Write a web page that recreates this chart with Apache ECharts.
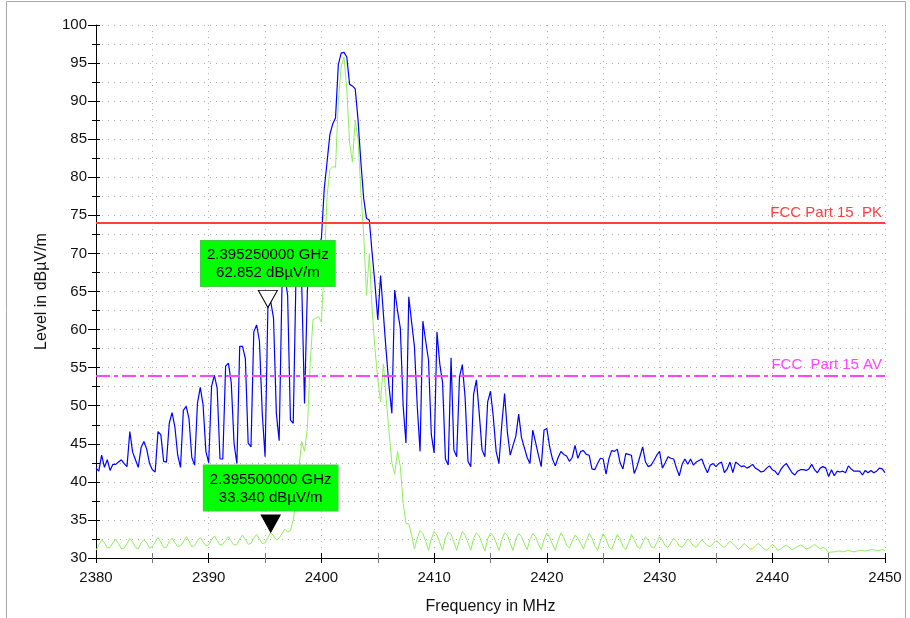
<!DOCTYPE html>
<html>
<head>
<meta charset="utf-8">
<title>Band edge 2380 - 2450 MHz</title>
<script src="https://cdn.jsdelivr.net/npm/echarts@6/dist/echarts.min.js"></script>
<style>
html, body { margin: 0; padding: 0; background: #fff; }
#main { width: 910px; height: 618px; }
</style>
</head>
<body>
<div id="main"></div>
<script>
// sweep: 2380 - 2450 MHz, one sample every 0.25 MHz
var startMHz = 2380;
var stepMHz = 0.25;

// peak detector trace (blue), dBµV/m, 10 samples per row
var peakTrace = [
	41.8, 41.4, 43.5, 41.9, 42.9, 41.5, 42.3, 42.3, 42.6, 42.9,
	42.4, 42.0, 46.6, 43.9, 42.9, 41.9, 44.5, 45.3, 44.3, 42.4,
	41.6, 41.3, 46.6, 46.2, 42.7, 42.6, 47.7, 49.1, 47.2, 43.5,
	41.9, 49.4, 49.9, 48.3, 43.2, 42.2, 50.3, 52.4, 50.1, 44.0,
	42.5, 52.5, 54.0, 52.3, 43.0, 43.0, 55.2, 55.6, 53.0, 45.0,
	42.4, 57.8, 57.8, 56.2, 45.1, 44.6, 59.7, 60.6, 58.5, 49.0,
	43.3, 62.852, 63.7, 61.5, 49.0, 45.4, 65.7, 67.2, 64.5, 48.1,
	47.7, 67.5, 68.5, 66.0, 50.3, 65.0, 69.5, 70.5, 70.0, 70.9,
	72.0, 78.5, 82.0, 85.6, 87.0, 87.8, 94.8, 96.3, 96.4, 95.8,
	92.2, 92.0, 91.6, 87.5, 82.0, 77.2, 74.6, 74.4, 70.0, 66.0,
	61.3, 67.1, 62.0, 57.0, 52.5, 49.0, 65.2, 62.5, 60.2, 50.0,
	45.1, 64.3, 61.0, 57.8, 50.0, 44.0, 61.1, 58.5, 56.0, 46.2,
	43.8, 59.7, 55.5, 53.0, 43.0, 42.2, 56.3, 44.2, 43.3, 53.8,
	55.4, 51.0, 42.7, 42.0, 51.5, 53.4, 49.0, 44.2, 43.3, 50.5,
	51.9, 48.5, 44.0, 42.4, 47.5, 51.6, 46.5, 43.5, 44.8, 46.0,
	48.9, 45.8, 44.5, 43.2, 42.4, 46.8, 45.2, 43.5, 42.0, 46.8,
	47.0, 44.6, 43.0, 42.1, 43.2, 44.0, 43.6, 43.4, 42.7, 43.2,
	44.8, 43.1, 44.0, 44.1, 43.6, 43.5, 41.7, 41.6, 42.4, 43.1,
	43.0, 41.0, 43.0, 44.1, 44.0, 44.3, 42.5, 41.7, 43.7, 43.6,
	43.5, 41.1, 42.0, 43.3, 44.6, 42.6, 42.0, 42.2, 42.8, 43.5,
	44.0, 41.8, 42.5, 43.3, 43.1, 43.0, 41.8, 40.8, 42.3, 43.0,
	42.3, 43.0, 42.2, 42.6, 42.8, 43.0, 42.0, 41.2, 42.2, 42.4,
	42.0, 42.4, 42.6, 41.2, 41.7, 42.6, 41.2, 42.6, 42.3, 42.0,
	42.1, 41.8, 42.0, 42.3, 41.8, 41.6, 41.3, 41.4, 41.8, 42.1,
	41.6, 41.4, 40.9, 41.6, 42.1, 42.4, 41.8, 41.2, 40.9, 41.4,
	41.6, 41.6, 41.5, 41.7, 42.3, 41.6, 41.2, 41.8, 42.0, 41.8,
	40.7, 41.6, 40.8, 41.4, 41.3, 41.4, 41.2, 42.1, 41.7, 41.4,
	41.4, 41.4, 40.9, 41.5, 41.2, 41.5, 41.2, 41.4, 41.8, 41.7,
	41.2
];

// average detector trace (green), dBµV/m
var avgTrace = [
	31.0, 31.7, 32.4, 32.0, 31.3, 31.4, 32.0, 32.5, 31.9, 31.2,
	31.3, 31.9, 32.6, 32.1, 31.4, 31.2, 32.0, 32.4, 32.0, 31.3,
	31.5, 32.1, 32.7, 32.1, 31.4, 31.4, 32.2, 32.6, 32.0, 31.5,
	31.6, 32.1, 32.8, 32.2, 31.5, 31.6, 32.3, 32.7, 32.1, 31.6,
	31.7, 32.4, 32.9, 32.3, 31.7, 31.8, 32.3, 32.8, 32.2, 31.7,
	31.8, 32.5, 33.0, 32.4, 31.8, 31.9, 32.6, 33.1, 32.5, 31.9,
	32.0, 32.7, 33.34, 32.9, 32.4, 32.6, 33.2, 33.8, 33.4, 33.6,
	35.0, 37.5, 41.8, 45.3, 44.0, 47.0, 55.5, 61.3, 61.5, 61.7,
	61.0, 68.5, 77.5, 81.0, 81.4, 81.3, 90.0, 94.5, 95.8, 91.5,
	84.5, 82.0, 87.5, 85.0, 78.0, 72.5, 64.5, 70.0, 62.5, 57.5,
	53.5, 50.5, 55.5, 50.8, 46.5, 42.5, 41.0, 44.0, 42.0, 37.2,
	34.5, 34.5, 33.0, 31.2, 32.6, 33.6, 33.2, 32.2, 31.0, 32.5,
	33.5, 33.0, 32.0, 31.0, 32.6, 33.4, 33.1, 32.1, 31.0, 32.4,
	33.5, 33.0, 32.0, 31.0, 32.6, 33.3, 32.9, 31.9, 30.9, 32.5,
	33.3, 32.9, 32.0, 31.0, 32.4, 33.3, 33.0, 31.9, 31.0, 32.5,
	33.2, 32.8, 31.9, 31.1, 32.4, 33.2, 32.8, 31.8, 31.1, 32.4,
	33.3, 32.7, 31.8, 31.0, 32.3, 33.3, 32.7, 31.7, 31.3, 32.2,
	33.0, 32.6, 31.9, 31.2, 32.3, 33.2, 32.6, 31.6, 31.0, 32.2,
	33.2, 32.5, 31.5, 31.1, 32.1, 33.1, 32.5, 31.5, 31.1, 32.0,
	33.1, 32.4, 31.5, 31.2, 32.0, 32.8, 32.3, 31.5, 31.3, 32.0,
	32.8, 32.3, 31.6, 31.4, 32.0, 32.6, 32.2, 31.6, 31.4, 31.9,
	32.5, 32.1, 31.6, 31.4, 31.9, 32.4, 32.0, 31.6, 31.5, 31.9,
	32.3, 32.0, 31.6, 31.4, 31.8, 32.2, 31.9, 31.5, 31.1, 31.5,
	31.9, 31.6, 31.2, 31.2, 31.6, 31.9, 31.6, 31.2, 31.0, 31.4,
	31.8, 31.5, 31.0, 31.2, 31.5, 31.7, 31.4, 31.1, 31.3, 31.5,
	31.7, 31.5, 31.2, 31.3, 31.5, 31.8, 31.5, 31.2, 31.4, 31.2,
	30.7, 30.8, 30.8, 30.9, 30.9, 30.8, 30.9, 31.0, 30.9, 30.8,
	30.9, 31.0, 31.0, 30.9, 31.0, 31.1, 31.1, 31.0, 31.0, 31.1,
	31.0
];

// limit lines
var limitPK = 74;
var limitAV = 54;
var limitPKName = 'FCC Part 15  PK';
var limitAVName = 'FCC  Part 15 AV';

// markers: [MHz, dBµV/m]
var markerPK = [2395.25, 62.852];
var markerAV = [2395.5, 33.34];

var font = '"Liberation Sans", Arial, sans-serif';
var dots = { color: '#b0b0b0', width: 1, type: [1, 5] };
var downTriangle = 'path://M0,0L20,0L10,18Z';

function toPairs(values) {
	return values.map(function (v, i) {
		return [startMHz + i * stepMHz, v];
	});
}

function markerText(m) {
	return (m[0] / 1000).toFixed(9) + ' GHz\n' + m[1].toFixed(3) + ' dBµV/m';
}

function markerLabel(m) {
	return {
		show: true,
		position: 'top',
		distance: 4,
		formatter: markerText(m),
		backgroundColor: '#00ff00',
		borderColor: '#44cc44',
		borderWidth: 1,
		padding: [5, 6, 4, 6],
		color: '#000',
		fontFamily: font,
		fontSize: 15,
		lineHeight: 18,
		align: 'center'
	};
}

var option = {
	animation: false,
	graphic: [{
		type: 'rect',
		silent: true,
		shape: { x: 6.5, y: 1.5, width: 899, height: 700 },
		style: { fill: null, stroke: '#a8a8a8', lineWidth: 1 }
	}],
	grid: { left: 96, right: 25, top: 25, bottom: 60, outerBoundsMode: 'none' },
	xAxis: [{
		type: 'value',
		min: 2380,
		max: 2450,
		interval: 10,
		position: 'bottom',
		name: 'Frequency in MHz',
		nameLocation: 'middle',
		nameGap: 41,
		nameTextStyle: { color: '#111', fontFamily: font, fontSize: 16 },
		axisLine: { show: true, onZero: false, lineStyle: { color: '#000', width: 1 } },
		axisTick: { show: true, length: 5, lineStyle: { color: '#000' } },
		minorTick: { show: true, splitNumber: 2, length: 5, lineStyle: { color: '#777' } },
		axisLabel: {
			color: '#111', fontFamily: font, fontSize: 15, margin: 12,
			formatter: function (v) { return String(v); }
		},
		splitLine: { show: true, lineStyle: dots },
		minorSplitLine: { show: true, lineStyle: dots }
	}, {
		// same axis again, only to draw the tick halves above the line
		type: 'value',
		min: 2380,
		max: 2450,
		interval: 10,
		position: 'bottom',
		axisLine: { show: false, onZero: false },
		axisTick: { show: true, inside: true, length: 5, lineStyle: { color: '#000' } },
		minorTick: { show: true, splitNumber: 2, length: 5, lineStyle: { color: '#777' } },
		axisLabel: { show: false },
		splitLine: { show: false }
	}],
	yAxis: [{
		type: 'value',
		min: 30,
		max: 100,
		interval: 5,
		name: 'Level in dBµV/m',
		nameLocation: 'middle',
		nameGap: 46,
		nameTextStyle: { color: '#111', fontFamily: font, fontSize: 16 },
		axisLine: { show: true, onZero: false, lineStyle: { color: '#000', width: 1 } },
		axisTick: { show: true, length: 8, lineStyle: { color: '#000' } },
		minorTick: { show: true, splitNumber: 2, length: 4, lineStyle: { color: '#000' } },
		axisLabel: { color: '#111', fontFamily: font, fontSize: 15, margin: 9 },
		splitLine: { show: true, lineStyle: dots },
		minorSplitLine: { show: true, lineStyle: dots }
	}, {
		type: 'value',
		min: 30,
		max: 100,
		interval: 5,
		position: 'left',
		axisLine: { show: false, onZero: false },
		axisTick: { show: true, inside: true, length: 4, lineStyle: { color: '#000' } },
		minorTick: { show: true, splitNumber: 2, length: 4, lineStyle: { color: '#000' } },
		axisLabel: { show: false },
		splitLine: { show: false }
	}],
	series: [{
		name: 'Average',
		type: 'line',
		data: toPairs(avgTrace),
		showSymbol: false,
		lineStyle: { color: '#8fee5c', width: 1 },
		itemStyle: { color: '#8fee5c' },
		markPoint: {
			silent: true,
			data: [{
				coord: markerAV,
				symbol: downTriangle,
				symbolSize: [19, 17],
				symbolOffset: [0, -9],
				itemStyle: { color: '#000', borderColor: '#000', borderWidth: 1 },
				label: markerLabel(markerAV)
			}]
		}
	}, {
		name: 'Peak',
		type: 'line',
		data: toPairs(peakTrace),
		showSymbol: false,
		lineStyle: { color: '#0000ff', width: 1.2 },
		itemStyle: { color: '#0000ff' },
		markLine: {
			silent: true,
			symbol: 'none',
			data: [{
				yAxis: limitPK,
				lineStyle: { color: '#ff4040', width: 2, type: 'solid' },
				label: {
					formatter: limitPKName, position: 'insideEndTop', distance: 3,
					color: '#ff4040', fontFamily: font, fontSize: 15
				}
			}, {
				yAxis: limitAV,
				lineStyle: { color: '#ff44ff', width: 2, type: [14, 4, 4, 4] },
				label: {
					formatter: limitAVName, position: 'insideEndTop', distance: 3,
					color: '#ff44ff', fontFamily: font, fontSize: 15
				}
			}]
		},
		markPoint: {
			silent: true,
			data: [{
				coord: markerPK,
				symbol: downTriangle,
				symbolSize: [19, 17],
				symbolOffset: [0, -9],
				itemStyle: { color: '#fff', borderColor: '#000', borderWidth: 1 },
				label: markerLabel(markerPK)
			}]
		}
	}]
};

var chart = echarts.init(document.getElementById('main'), null, { renderer: 'canvas' });
chart.setOption(option);
</script>
</body>
</html>
